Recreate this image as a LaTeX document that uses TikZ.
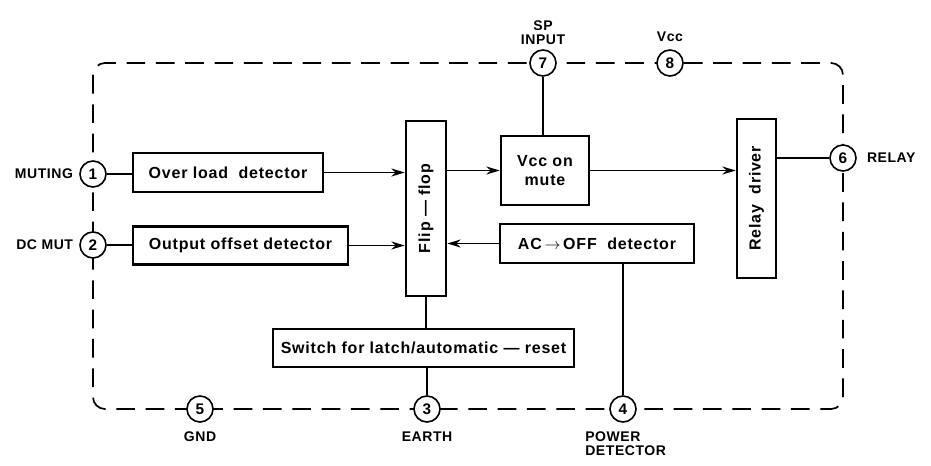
\documentclass[tikz,border=0pt]{standalone}
\usepackage{fontspec}
\setmainfont{Liberation Sans}
\usepackage{tikz}
\usetikzlibrary{positioning, arrows.meta}

\tikzset{
  block/.style={draw, line width=2pt, inner sep=0pt, font=\fontsize{12}{14}\selectfont\bfseries\addfontfeatures{LetterSpace=5}},
  pin/.style={draw, circle, line width=1.2pt, fill=white, minimum size=19.5pt, inner sep=0pt, font=\fontsize{11.5}{12}\selectfont\bfseries},
  lbl/.style={font=\fontsize{10.5}{10.5}\selectfont\bfseries\addfontfeatures{LetterSpace=4}, inner sep=1pt}
}

\begin{document}
\begin{tikzpicture}[x=0.75pt, y=-0.75pt, >={Stealth[length=10pt, width=6pt]}, line width=1.3pt]
    \useasboundingbox (0,0) rectangle (931,466);
    \draw[dash pattern=on 14pt off 8pt, line width=1.3pt, rounded corners=9pt] (93,63) rectangle (843,409);

    \node[block, minimum width=142.5pt, minimum height=29.25pt] (over) at (228,172.5) {Over load\ \ detector};
    \node[block, minimum width=161.25pt, minimum height=28.5pt] (offset) at (240.5,245.5) {Output offset detector};
    \node[block, minimum width=30pt, minimum height=131.25pt] (flip) at (426,208.5) {\rotatebox{90}{Flip --- flop}};
    \node[block, minimum width=66pt, minimum height=51.75pt, align=center] (vcc) at (545,170.5) {Vcc on\\mute};
    \node[block, minimum width=145.5pt, minimum height=29.25pt] (acoff) at (597,243.5) {AC\,$\rightarrow$\,OFF\ \ detector};
    \node[block, minimum width=29.25pt, minimum height=119.25pt] (relay) at (756.5,198.5) {\rotatebox{90}{Relay\ \ driver}};
    \node[block, minimum width=225.75pt, minimum height=28.5pt] (sw) at (423.5,348) {Switch for latch/automatic --- reset};

    \node[pin] (p1) at (93,174) {1};
    \node[pin] (p2) at (93,245) {2};
    \node[pin] (p5) at (200,409) {5};
    \node[pin] (p3) at (427,409) {3};
    \node[pin] (p4) at (623,409) {4};
    \node[pin] (p7) at (543,63) {7};
    \node[pin] (p8) at (670,63) {8};
    \node[pin] (p6) at (843,158) {6};

    \node[lbl, left=3pt of p1] {MUTING};
    \node[lbl, left=3pt of p2] {DC MUT};
    \node[lbl, right=6pt of p6] {RELAY};
    \node[lbl, above=2pt of p7, align=center] {SP\\INPUT};
    \node[lbl, above=4pt of p8] {Vcc};
    \node[lbl, below=5pt of p5] {GND};
    \node[lbl, below=5pt of p3] {EARTH};
    \node[lbl, below=5pt of p4, align=left, xshift=2pt] {POWER\\DETECTOR};

    \draw (p1) -- (p1 -| over.west);
    \draw (p2) -- (p2 -| offset.west);
    \draw[->] (over) -- (over -| flip.west);
    \draw[->] (offset) -- (offset -| flip.west);
    \draw[->] (acoff) -- (acoff -| flip.east);
    \draw[->] (flip.east |- vcc.west) -- (vcc.west);
    \draw[->] (vcc) -- (vcc -| relay.west);
    \draw (relay.east |- p6) -- (p6);
    \draw (p7) -- (p7 |- vcc.north);
    \draw (flip) -- (flip |- sw.north);
    \draw (p3) -- (p3 |- sw.south);
    \draw (p4) -- (p4 |- acoff.south);
\end{tikzpicture}
\end{document}
